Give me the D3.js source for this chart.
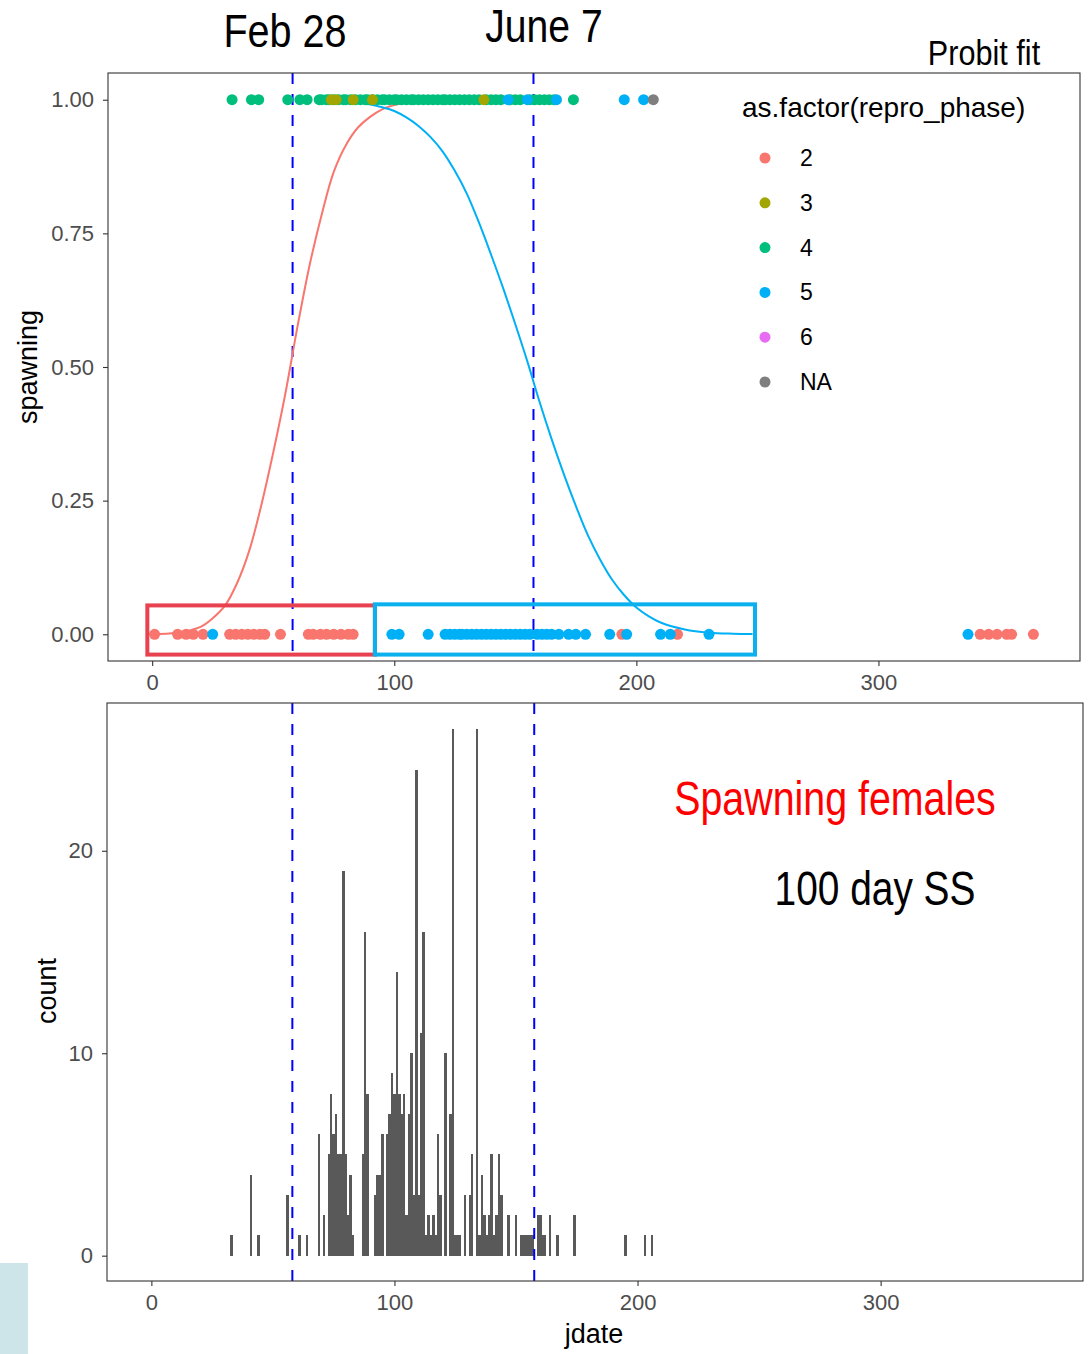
<!DOCTYPE html>
<html><head><meta charset="utf-8">
<script src="https://cdn.jsdelivr.net/npm/d3@7"></script>
<style>body{margin:0;background:#fff}svg{display:block}</style>
</head><body>
<script>
// ---------- DATA ----------
const legendLevels = ["2","3","4","5","6","NA"];
const legendColors = ["#F8766D","#A3A500","#00BF7D","#00B0F6","#E76BF3","#7F7F7F"];
const xTicks = [0,100,200,300];
const yTicksTop = [0,0.25,0.5,0.75,1];
const yTickLabelsTop = ["0.00","0.25","0.50","0.75","1.00"];
const yTicksBottom = [0,10,20];
const markerDays = [58, 157.5];

// spawning = 1 (top row)
const top_phase4 = [33,41,44,56,61,64,69,70,72,73,75,77,79,80,82,84,86,88,89,91,93,95,96,98,100,101,103,105,107,108,110,112,114,116,118,120,121,123,125,127,129,131,133,135,138,140,142,144,148,150,152,156,158,160,162,164,166,174];
const top_phase3 = [74,76,83,91,137];
const top_phase5 = [147,155,167,195,203];
const top_NA = [207];
// spawning = 0 (bottom row)
const bot_phase2 = [1,10.5,14,17,21,32,34.5,37,39.5,42,44.5,46.5,53,64.5,66.5,69.5,72,75,78,81,83,194,217,342,345.5,349,353,355,364];
const bot_phase5 = [25,99,102,114,121,123,125,127,128,130,132,134,136,138,140,142,144,146,148,150,152,154,156,159,161,163,165,168,172,175,179,189,196,210,214,230,337];

// probit fit curves: [day, p]
const fitRed = [[0,0.0005],[10,0.003],[20,0.014],[25,0.03],[30,0.053],[35,0.095],[40,0.155],[45,0.24],[50,0.34],[55,0.45],[60,0.575],[65,0.69],[70,0.785],[75,0.865],[80,0.915],[85,0.948],[90,0.968],[95,0.982],[100,0.99],[105,0.995],[110,0.998],[120,0.999],[140,1]];
const fitBlue = [[88,0.993],[95,0.986],[100,0.979],[105,0.967],[110,0.951],[115,0.93],[120,0.903],[125,0.867],[130,0.824],[135,0.77],[140,0.71],[145,0.647],[150,0.58],[155,0.51],[160,0.435],[165,0.365],[170,0.3],[175,0.24],[180,0.185],[185,0.14],[190,0.102],[195,0.073],[200,0.05],[205,0.034],[210,0.022],[220,0.009],[230,0.003],[240,0.001],[248,0.0003]];

// histogram: count of spawning females per jdate
const histDays   = [33,41,44,56,61,64,69,71,73,74,75,76,77,78,79,80,81,82,83,87,88,89,92,93,94,95,97,98,99,100,101,102,103,104,105,106,107,108,109,110,111,112,113,114,115,116,117,118,119,121,123,124,125,126,127,129,131,132,134,135,136,137,138,139,140,141,142,143,144,147,150,152,153,154,155,156,157,159,160,161,162,164,167,174,195,203,206];
const histCounts = [1,4,1,3,1,1,6,2,5,8,6,7,5,5,19,5,2,4,1,5,16,8,3,4,4,6,6,7,9,8,14,8,7,8,2,7,10,3,24,3,11,16,1,2,1,2,1,6,3,10,7,26,1,1,1,3,3,5,26,1,4,2,1,2,5,1,2,5,3,2,2,1,1,1,1,1,1,2,2,1,1,2,1,2,1,1,1];

// ---------- DRAW ----------
const W = 1089, H = 1354;
const svg = d3.select("body").append("svg").attr("width", W).attr("height", H);
const font = "'Liberation Sans', Arial, sans-serif";

svg.append("rect").attr("x",0).attr("y",1263).attr("width",28).attr("height",91).attr("fill","#cde5e8");

const xDomain = [-18.25, 383.25];
const xT = d3.scaleLinear().domain(xDomain).range([108, 1080]);
const yT = d3.scaleLinear().domain([-0.05, 1.05]).range([661, 73]);
const xB = d3.scaleLinear().domain(xDomain).range([107, 1083]);
const yB = d3.scaleLinear().domain([-1.3, 27.3]).range([1282, 703]);

function styleAxis(g){
  g.select(".domain").remove();
  g.selectAll(".tick line").attr("stroke","#333").attr("stroke-width",1.1);
  g.selectAll(".tick text").attr("fill","#4d4d4d").style("font-family",font).style("font-size","22px");
}

// ---- top panel ----
const gT = svg.append("g");
gT.append("g").attr("transform","translate(0,661)")
  .call(d3.axisBottom(xT).tickValues(xTicks).tickSize(5).tickPadding(8).tickFormat(d3.format("d")))
  .call(styleAxis);
gT.append("g").attr("transform","translate(108,0)")
  .call(d3.axisLeft(yT).tickValues(yTicksTop).tickSize(5).tickPadding(9).tickFormat((d,i)=>yTickLabelsTop[i]))
  .call(styleAxis);

markerDays.forEach(d=>{
  gT.append("line").attr("x1",xT(d)).attr("x2",xT(d)).attr("y1",73).attr("y2",661)
    .attr("stroke","#0000ff").attr("stroke-width",2).attr("stroke-dasharray","11,10");
});

const line = d3.line().x(d=>xT(d[0])).y(d=>yT(d[1])).curve(d3.curveCatmullRom.alpha(0.5));
gT.append("path").datum(fitRed).attr("d",line).attr("fill","none").attr("stroke","#F8766D").attr("stroke-width",2);
gT.append("path").datum(fitBlue).attr("d",line).attr("fill","none").attr("stroke","#00B0F6").attr("stroke-width",2);

function dots(days, val, color){
  gT.append("g").selectAll("circle").data(days).join("circle")
    .attr("cx",d=>xT(d)).attr("cy",yT(val)).attr("r",5.5).attr("fill",color);
}
dots(top_phase4, 1, legendColors[2]);
dots(top_phase3, 1, legendColors[1]);
dots(top_phase5, 1, legendColors[3]);
dots(top_NA, 1, legendColors[5]);
dots(bot_phase2, 0, legendColors[0]);
dots(bot_phase5, 0, legendColors[3]);

gT.append("rect").attr("x",xT(-2)).attr("y",yT(0.054)).attr("width",xT(92)-xT(-2)).attr("height",yT(-0.038)-yT(0.054))
  .attr("fill","none").attr("stroke","#E8414F").attr("stroke-width",4);
gT.append("rect").attr("x",xT(92)).attr("y",yT(0.056)).attr("width",xT(249)-xT(92)).attr("height",yT(-0.038)-yT(0.056))
  .attr("fill","none").attr("stroke","#0BB0EE").attr("stroke-width",4);

gT.append("rect").attr("x",108).attr("y",73).attr("width",972).attr("height",588)
  .attr("fill","none").attr("stroke","#333").attr("stroke-width",1.1);

svg.append("text").attr("transform","translate(37,367) rotate(-90)").attr("text-anchor","middle")
  .style("font-family",font).style("font-size","27px").attr("fill","#000").text("spawning");

// legend
svg.append("text").attr("x",742).attr("y",117).style("font-family",font).style("font-size","28px").text("as.factor(repro_phase)");
legendLevels.forEach((lv,i)=>{
  const y = 158 + i*44.8;
  svg.append("circle").attr("cx",765).attr("cy",y).attr("r",5.5).attr("fill",legendColors[i]);
  svg.append("text").attr("x",800).attr("y",y+8).style("font-family",font).style("font-size","23px").text(lv);
});

// ---- bottom panel ----
const gB = svg.append("g");
gB.append("g").attr("transform","translate(0,1281)")
  .call(d3.axisBottom(xB).tickValues(xTicks).tickSize(5).tickPadding(8).tickFormat(d3.format("d")))
  .call(styleAxis);
gB.append("g").attr("transform","translate(107,0)")
  .call(d3.axisLeft(yB).tickValues(yTicksBottom).tickSize(5).tickPadding(9).tickFormat(d3.format("d")))
  .call(styleAxis);

const bars = histDays.map((d,i)=>({d, c:histCounts[i]}));
gB.append("g").attr("shape-rendering","crispEdges").selectAll("rect").data(bars).join("rect")
  .attr("x",b=>xB(b.d-0.5)).attr("width",xB(1)-xB(0))
  .attr("y",b=>yB(b.c)).attr("height",b=>yB(0)-yB(b.c)).attr("fill","#595959");

markerDays.forEach(d=>{
  gB.append("line").attr("x1",xB(d)).attr("x2",xB(d)).attr("y1",703).attr("y2",1281)
    .attr("stroke","#0000ff").attr("stroke-width",2).attr("stroke-dasharray","11,10");
});
gB.append("rect").attr("x",107).attr("y",703).attr("width",976).attr("height",578)
  .attr("fill","none").attr("stroke","#333").attr("stroke-width",1.1);

svg.append("text").attr("transform","translate(56,991) rotate(-90)").attr("text-anchor","middle")
  .style("font-family",font).style("font-size","27px").text("count");
svg.append("text").attr("x",594).attr("y",1343).attr("text-anchor","middle")
  .style("font-family",font).style("font-size","27px").text("jdate");

// ---- annotations (condensed look) ----
function note(x,y,size,sx,txt,color){
  svg.append("text").attr("transform",`translate(${x},${y}) scale(${sx},1)`).attr("text-anchor","middle")
    .style("font-family",font).style("font-size",size+"px").attr("fill",color||"#000").text(txt);
}
note(285,47,46,0.86,"Feb 28");
note(544,42,46,0.85,"June 7");
note(984,65,35,0.875,"Probit fit");
note(835,815,48,0.82,"Spawning females","#ff0000");
note(875,905,48,0.81,"100 day SS");
</script>
</body></html>
